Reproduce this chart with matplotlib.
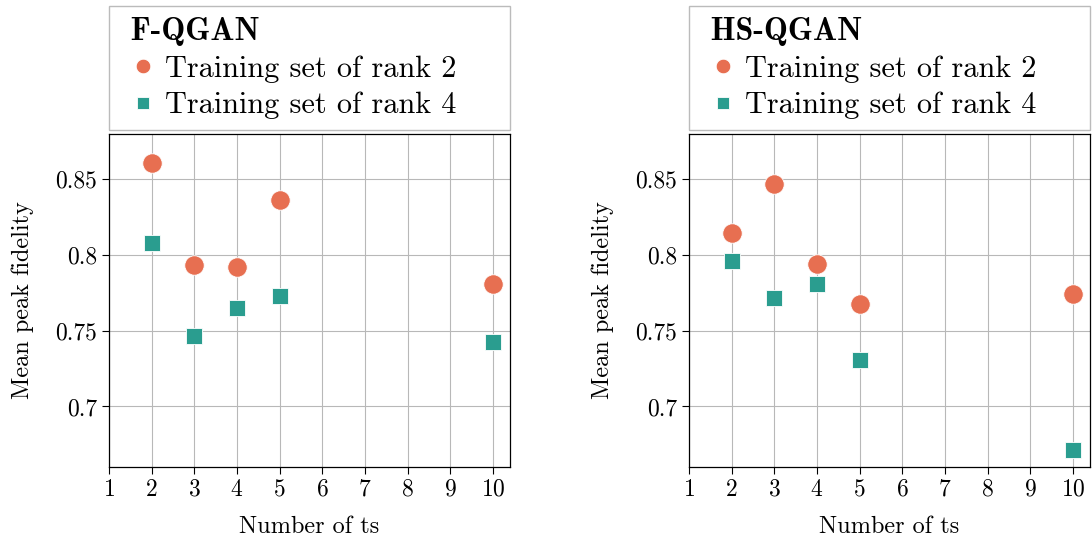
import matplotlib
matplotlib.use("Agg")
import matplotlib.pyplot as plt
from matplotlib.ticker import FormatStrFormatter

plt.rcParams['font.family'] = ['cmr10', 'DejaVu Serif']
plt.rcParams['axes.formatter.use_mathtext'] = True

n_ts = [2, 3, 4, 5, 10]

fq_rank2 = [0.861, 0.7937, 0.7922, 0.8366, 0.7806]
fq_rank4 = [0.8082, 0.7464, 0.7652, 0.7731, 0.7423]

hs_rank2 = [0.8147, 0.8472, 0.7942, 0.7677, 0.7745]
hs_rank4 = [0.7963, 0.7718, 0.7812, 0.7304, 0.6715]

titles = ['F-QGAN', 'HS-QGAN']
red = '#e76f51'
teal = '#2a9d8f'

W, H = 1092, 543
fig = plt.figure(figsize=(W / 100, H / 100), dpi=100)

panels = [(109, fq_rank2, fq_rank4), (689, hs_rank2, hs_rank4)]
for (left, r2, r4), title in zip(panels, titles):
    ax = fig.add_axes([left / W, (H - 467) / H, 401 / W, 333 / H])
    ax.plot(n_ts, r2, 'o', ms=14, color=red, mec='white', mew=0.6,
            label='Training set of rank 2', zorder=3)
    ax.plot(n_ts, r4, 's', ms=11.5, color=teal, mec='white', mew=0.6,
            label='Training set of rank 4', zorder=3)
    ax.set_xlim(1, 10.4)
    ax.set_ylim(0.66, 0.88)
    ax.set_xticks(range(1, 11))
    ax.set_yticks([0.7, 0.75, 0.8, 0.85])
    ax.yaxis.set_major_formatter(FormatStrFormatter('%g'))
    ax.grid(True, color='#b8b8b8', lw=0.8)
    ax.set_axisbelow(True)
    ax.tick_params(labelsize=17, direction='out', length=5, width=0.8)
    for s in ax.spines.values():
        s.set_linewidth(0.9)
    ax.set_xlabel('Number of ts', fontsize=17.5, labelpad=11)
    ax.set_ylabel('Mean peak fidelity', fontsize=17.5, labelpad=15)
    leg = ax.legend(loc='lower left', bbox_to_anchor=(0, 1.012, 1, 0.3),
                    mode='expand', borderaxespad=0, fontsize=21.8,
                    title=' ' + title,
                    title_fontproperties={'family': 'cmb10', 'size': 23},
                    alignment='left', fancybox=False, edgecolor='#bbbbbb',
                    handletextpad=0.0, handlelength=1.5, labelspacing=0.3,
                    borderpad=0.36, markerscale=0.75, framealpha=1)
    leg.get_frame().set_linewidth(1.0)

fig.savefig('out.png', dpi=100)
